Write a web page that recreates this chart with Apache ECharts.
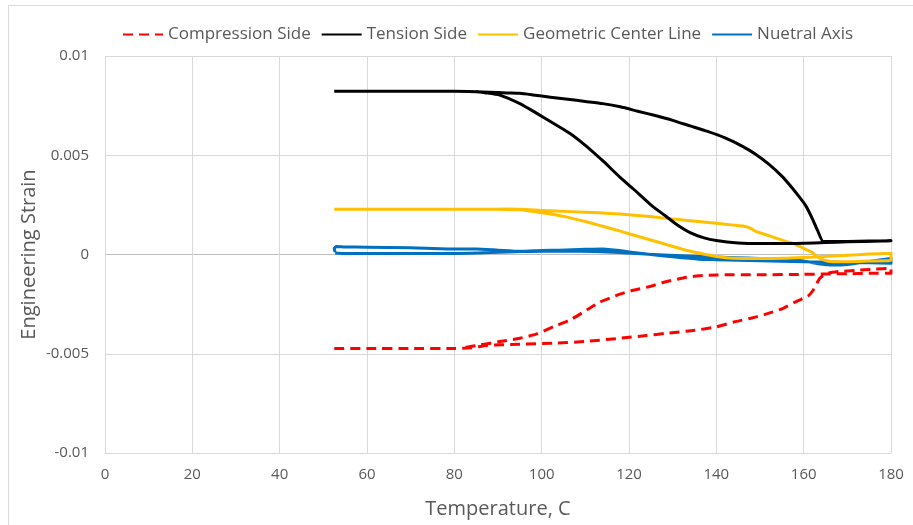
<!DOCTYPE html>
<html>
<head>
<meta charset="utf-8">
<script src="https://cdn.jsdelivr.net/npm/echarts@6/dist/echarts.min.js"></script>
<style>
  html, body { margin: 0; padding: 0; background: #ffffff; }
  #chart { width: 913px; height: 525px; }
</style>
</head>
<body>
<div id="chart"></div>
<script>
// Series names, as shown in the legend
const seriesNames = ['Compression Side', 'Tension Side', 'Geometric Center Line', 'Nuetral Axis'];

// Axis ranges and tick steps
const xRange = [0, 180];
const xStep = 20;
const yRange = [-0.01, 0.01];
const yStep = 0.005;

// Compression side: heating branch then cooling branch (temperature, strain)
const compressionTemp = [52.5, 60, 70, 80, 84, 87.4, 95, 102.7, 110, 117.9, 124, 128.6, 135, 140.1, 144, 147.7, 151, 155.3, 158, 159.9, 161, 162.2, 163.7, 165.5, 168, 172, 176, 180,
  180, 175, 170, 165, 160, 150, 140.1, 136, 132.4, 128, 125, 121, 117.9, 113.3, 110.3, 106.5, 102.7, 98.9, 95, 90, 85.9, 82];
const compressionStrain = [-0.00473, -0.00473, -0.00473, -0.00473, -0.0047, -0.00458, -0.00452, -0.00447, -0.00438, -0.00422, -0.00408, -0.00397, -0.00382, -0.00364, -0.0034, -0.00322, -0.00303, -0.00271, -0.0024, -0.00221, -0.0021, -0.00179, -0.0012, -0.00095, -0.00086, -0.0008, -0.00074, -0.0007,
  -0.00095, -0.00095, -0.00097, -0.00098, -0.001, -0.00102, -0.00103, -0.00107, -0.00118, -0.0014, -0.0016, -0.0018, -0.002, -0.0024, -0.0028, -0.0033, -0.00364, -0.004, -0.00422, -0.0044, -0.00456, -0.0047];

// Tension side
const tensionTemp = [52.5, 60, 70, 80, 85, 88, 92, 95, 98, 102, 106, 110, 114, 118, 122, 126, 130, 134, 138, 142, 146, 149, 152, 155, 157, 159, 160.5, 162, 163.2, 164.5, 166, 170, 175, 180,
  178, 170, 165, 160, 155, 150, 145, 140, 137, 134, 131, 128.6, 125, 121, 117.9, 114.1, 110, 106.5, 102, 98.9, 95, 90.4, 87, 85];
const tensionStrain = [0.00822, 0.00822, 0.00822, 0.00822, 0.0082, 0.00818, 0.00814, 0.00812, 0.00804, 0.00792, 0.00782, 0.00771, 0.0076, 0.00744, 0.00722, 0.007, 0.00676, 0.00648, 0.0062, 0.00587, 0.00545, 0.00505, 0.00455, 0.00395, 0.00345, 0.0029, 0.00245, 0.0018, 0.0012, 0.00065, 0.00065, 0.00066, 0.00068, 0.00069,
  0.00068, 0.00064, 0.0006, 0.00057, 0.00055, 0.00055, 0.00058, 0.0007, 0.00085, 0.0011, 0.0015, 0.0019, 0.0025, 0.0033, 0.0039, 0.0047, 0.0055, 0.0061, 0.0067, 0.00711, 0.0076, 0.00803, 0.00815, 0.0082];

// Geometric center line
const centerTemp = [52.5, 60, 70, 80, 87, 92, 95, 100, 106.5, 113.3, 117.9, 122, 128.6, 134, 140.1, 144, 146.9, 148, 149.2, 152, 156.1, 157.6, 160.7, 162, 163, 165, 166.8, 170, 175, 180,
  180, 175, 170, 166.8, 160, 155.3, 150, 144, 140, 136.3, 132, 128.6, 125, 121, 118, 114, 110, 105, 100, 95, 90];
const centerStrain = [0.00228, 0.00228, 0.00228, 0.00228, 0.00228, 0.00229, 0.00228, 0.00222, 0.00216, 0.0021, 0.00204, 0.00197, 0.00182, 0.0017, 0.00157, 0.00148, 0.0014, 0.0013, 0.00115, 0.00095, 0.00065, 0.00056, 0.00023, 0.0001, -0.00011, -0.0003, -0.00036, -0.00036, -0.00033, -0.0003,
  0.00006, 0.00002, -0.00004, -0.00008, -0.00015, -0.00019, -0.0002, -0.00019, -0.0001, 0.00006, 0.00028, 0.0005, 0.00073, 0.00098, 0.00118, 0.00142, 0.00166, 0.00192, 0.0021, 0.00225, 0.00228];

// Neutral axis
const neutralTemp = [52.7, 55, 60, 70, 80, 85, 88, 92, 96, 100, 106, 112, 118, 121, 128, 136, 144, 150, 155, 160, 163, 166.8, 170, 175, 180,
  180, 175, 170, 160, 150, 140, 136, 130, 125, 121, 117.9, 114, 110, 104, 100, 95, 90, 85, 80, 70, 60, 55, 53, 52.5, 52.7];
const neutralStrain = [0.00008, 0.00005, 0.00005, 0.00005, 0.00005, 0.00007, 0.0001, 0.00012, 0.00015, 0.00017, 0.00017, 0.00015, 0.0001, 0.00006, -0.00003, -0.0001, -0.00016, -0.0002, -0.00022, -0.00033, -0.00045, -0.00053, -0.0005, -0.00035, -0.0002,
  -0.00044, -0.00042, -0.0004, -0.00036, -0.00032, -0.00026, -0.00024, -0.00012, 0, 0.0001, 0.0002, 0.00028, 0.00026, 0.00022, 0.0002, 0.00016, 0.00022, 0.00028, 0.00028, 0.00034, 0.00037, 0.00038, 0.0004, 0.0003, 0.00012];

const seriesColors = ['#FF0000', '#000000', '#FFC000', '#0070C0'];

const zip = (xs, ys) => xs.map((x, i) => [x, ys[i]]);
const curves = [
  zip(compressionTemp, compressionStrain),
  zip(tensionTemp, tensionStrain),
  zip(centerTemp, centerStrain),
  zip(neutralTemp, neutralStrain)
];

const textColor = '#595959';
const fontFamily = '"Open Sans", "Liberation Sans", sans-serif';

const chart = echarts.init(document.getElementById('chart'), null, { renderer: 'canvas' });

chart.setOption({
  animation: false,
  backgroundColor: '#ffffff',
  textStyle: { fontFamily: fontFamily, color: textColor },
  graphic: [{
    type: 'rect',
    shape: { x: 8.5, y: 5.5, width: 1000, height: 1000 },
    style: { fill: 'none', stroke: '#d9d9d9', lineWidth: 1 },
    silent: true
  }],
  legend: {
    top: 21,
    left: 117,
    itemWidth: 40,
    itemHeight: 14,
    itemGap: 10,
    itemStyle: { opacity: 0 },
    textStyle: { fontFamily: fontFamily, fontSize: 17, color: textColor },
    data: seriesNames
  },
  grid: { left: 105, right: 22, top: 56, bottom: 72 },
  xAxis: {
    type: 'value',
    min: xRange[0],
    max: xRange[1],
    interval: xStep,
    name: 'Temperature, C',
    nameLocation: 'middle',
    nameGap: 46,
    nameMoveOverlap: false,
    nameTextStyle: { fontFamily: fontFamily, fontSize: 20, color: textColor },
    axisLine: { onZero: false, lineStyle: { color: '#d9d9d9' } },
    axisTick: { show: false },
    axisLabel: { margin: 14, fontSize: 15, color: textColor, fontFamily: fontFamily },
    splitLine: { show: true, lineStyle: { color: '#d9d9d9', width: 1 } }
  },
  yAxis: {
    type: 'value',
    min: yRange[0],
    max: yRange[1],
    interval: yStep,
    name: 'Engineering Strain',
    nameLocation: 'middle',
    nameGap: 66,
    nameMoveOverlap: false,
    nameTextStyle: { fontFamily: fontFamily, fontSize: 20, color: textColor },
    axisLine: { show: false },
    axisTick: { show: false },
    axisLabel: { margin: 16, fontSize: 15, color: textColor, fontFamily: fontFamily },
    splitLine: {
      show: true,
      lineStyle: { color: ['#d9d9d9', '#d9d9d9', '#bfbfbf', '#d9d9d9', '#d9d9d9'], width: 1 }
    }
  },
  series: seriesNames.map((name, i) => ({
    name: name,
    type: 'line',
    data: curves[i],
    symbol: 'none',
    smooth: 0.2,
    clip: true,
    z: 10 - i,
    lineStyle: {
      color: seriesColors[i],
      width: 3,
      type: i === 0 ? [10, 6] : 'solid',
      cap: 'butt',
      join: 'round'
    },
    itemStyle: { color: seriesColors[i] }
  }))
});
</script>
</body>
</html>
